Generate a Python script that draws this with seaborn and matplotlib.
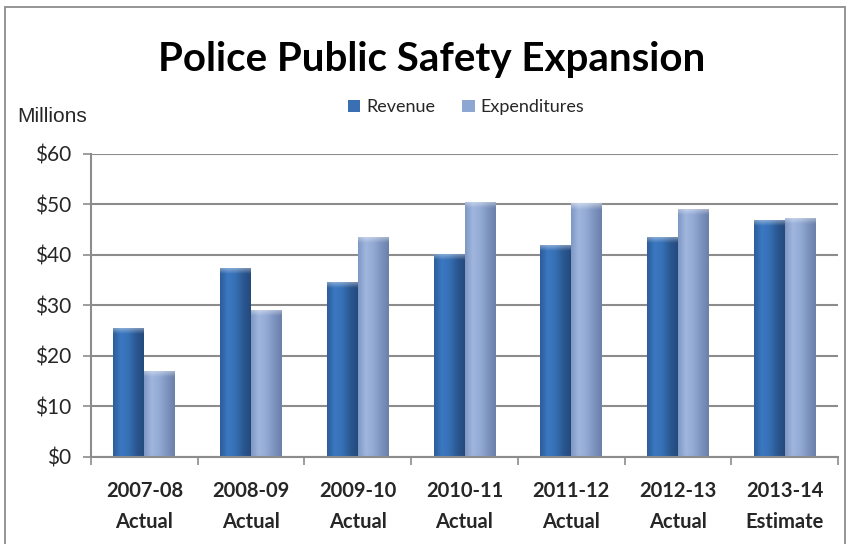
import numpy as np
import pandas as pd
import matplotlib
matplotlib.use("Agg")
import matplotlib.pyplot as plt
import matplotlib.patches as mpatches
from matplotlib.colors import LinearSegmentedColormap
import seaborn as sns

# data ($ millions)
years = ["2007-08\nActual", "2008-09\nActual", "2009-10\nActual", "2010-11\nActual",
         "2011-12\nActual", "2012-13\nActual", "2013-14\nEstimate"]
revenue = [25.6, 37.5, 34.7, 40.2, 41.9, 43.6, 47.0]
expenditures = [17.0, 29.1, 43.5, 50.5, 50.2, 49.1, 47.3]
series = ["Revenue", "Expenditures"]
yticks = [0, 10, 20, 30, 40, 50, 60]

df = pd.DataFrame({
    "year": years * 2,
    "value": revenue + expenditures,
    "series": ["Revenue"] * len(years) + ["Expenditures"] * len(years),
})

sns.set_style("white")
plt.rcParams["font.family"] = ["Lato", "DejaVu Sans"]

base = {"Revenue": "#3a70b3", "Expenditures": "#8ea6d2"}
# cylinder-ish shading across each bar
shades = {
    "Revenue": ["#2d5d99", "#3b78c2", "#3670b5", "#2b5892", "#244a7c"],
    "Expenditures": ["#7f97c4", "#a0b6de", "#93aad4", "#7d94c0", "#6b80a8"],
}
cap_cmap = LinearSegmentedColormap.from_list(
    "cap", [(1, 1, 1, 0.0), (1, 1, 1, 0.45)])

fig = plt.figure(figsize=(8.5, 5.44), dpi=100)
ax = fig.add_axes([0.107, 0.160, 0.879, 0.557])

sns.barplot(data=df, x="year", y="value", hue="series", hue_order=series,
            palette=base, width=0.58, gap=0, saturation=1, legend=False,
            edgecolor="none", ax=ax)

# gradient fill clipped to each bar
n = len(years)
for i, p in enumerate(list(ax.patches)[:2 * n]):
    s = series[i // n]
    cmap = LinearSegmentedColormap.from_list(s, shades[s])
    x0, w, h = p.get_x(), p.get_width(), p.get_height()
    grad = np.linspace(0, 1, 64).reshape(1, -1)
    im = ax.imshow(grad, cmap=cmap, extent=[x0, x0 + w, 0, h], aspect="auto",
                   zorder=p.get_zorder() + 0.1, interpolation="bicubic")
    im.set_clip_path(p)
    # soft highlight at the top of the bar
    vgrad = np.linspace(0, 1, 16).reshape(-1, 1)
    cap = ax.imshow(vgrad, cmap=cap_cmap, extent=[x0, x0 + w, h - 1.2, h],
                    origin="lower", aspect="auto", zorder=p.get_zorder() + 0.2,
                    interpolation="bicubic")
    cap.set_clip_path(p)

ax.set_xlim(-0.5, n - 0.5)
ax.set_ylim(0, 60)
ax.set_yticks(yticks)
ax.set_yticklabels([f"${v}" for v in yticks])
ax.set_xlabel("")
ax.set_ylabel("")

ax.yaxis.grid(True, color="#8c8c8c", linewidth=1.5)
ax.set_axisbelow(True)
for side in ["top", "right"]:
    ax.spines[side].set_visible(False)
for side in ["left", "bottom"]:
    ax.spines[side].set_color("#8c8c8c")
    ax.spines[side].set_linewidth(1.5)

ax.set_xticks(np.arange(-0.5, n, 1), minor=True)
ax.tick_params(axis="x", which="minor", length=6, width=1.2, color="#8c8c8c",
               direction="out", bottom=True)
ax.tick_params(axis="x", which="major", length=0, pad=17, labelsize=14.5)
ax.tick_params(axis="y", length=6, width=1.2, color="#8c8c8c", direction="out",
               left=True, pad=8, labelsize=15)
for lab in ax.get_xticklabels():
    lab.set_fontweight("bold")
    lab.set_linespacing(1.7)

fig.text(0.508, 0.891, "Police Public Safety Expansion", ha="center", va="center",
         fontsize=29, fontweight="bold", color="black")
fig.text(0.02, 0.786, "Millions", ha="left", va="center", fontsize=15,
         family=["Liberation Sans", "DejaVu Sans"])

handles = [mpatches.Patch(facecolor=base[s], edgecolor="none") for s in series]
fig.legend(handles, series, loc="center", bbox_to_anchor=(0.548, 0.803), ncol=2,
           frameon=False, fontsize=13, handlelength=0.7, handleheight=0.7,
           handletextpad=0.3, columnspacing=1.5)

# outer border of the chart area
fig.patches.append(mpatches.Rectangle((0.006, -0.01), 0.988, 0.997,
                                      transform=fig.transFigure, fill=False,
                                      edgecolor="#8c8c8c", linewidth=1.3))

fig.savefig("out.png", dpi=100)
